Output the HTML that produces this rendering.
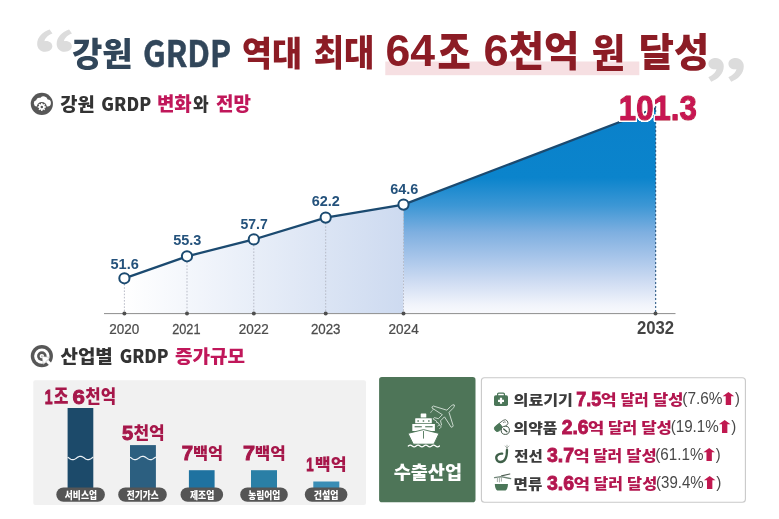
<!DOCTYPE html>
<html lang="ko">
<head>
<meta charset="utf-8">
<title>강원 GRDP</title>
<style>
html,body{margin:0;padding:0;background:#fff;}
body{width:779px;height:519px;overflow:hidden;}
svg{display:block;}
</style>
</head>
<body>
<svg width="779" height="519" viewBox="0 0 779 519">
<defs>
<linearGradient id="gl" x1="124" y1="0" x2="403.5" y2="0" gradientUnits="userSpaceOnUse">
<stop offset="0" stop-color="#ffffff"/>
<stop offset="1" stop-color="#cddaf0"/>
</linearGradient>
<linearGradient id="gr" x1="0" y1="111" x2="0" y2="313" gradientUnits="userSpaceOnUse">
<stop offset="0" stop-color="#0a81ca"/>
<stop offset="0.33" stop-color="#0b84cc"/>
<stop offset="0.47" stop-color="#3d97d5"/>
<stop offset="0.6" stop-color="#7eafe0"/>
<stop offset="0.73" stop-color="#a9c6ea"/>
<stop offset="0.856" stop-color="#d2def3"/>
<stop offset="0.96" stop-color="#f1f4fb"/>
<stop offset="1" stop-color="#f8f9fd"/>
</linearGradient>
<filter id="ol" x="-10%" y="-20%" width="120%" height="140%">
<feMorphology in="SourceAlpha" operator="dilate" radius="1.3" result="d"/>
<feGaussianBlur in="d" stdDeviation="0.35" result="b"/>
<feFlood flood-color="#fff" result="f"/>
<feComposite in="f" in2="b" operator="in" result="o"/>
<feComponentTransfer in="o" result="o2"><feFuncA type="linear" slope="3"/></feComponentTransfer>
<feMerge><feMergeNode in="o2"/><feMergeNode in="SourceGraphic"/></feMerge>
</filter>
</defs>
<rect width="779" height="519" fill="#fff"/>
<!-- title highlight -->
<rect x="385.3" y="61.5" width="254" height="13.7" fill="#f6dfe2"/>


<!-- section icon 1: cloud + gear -->
<circle cx="41.85" cy="103.8" r="11.1" fill="#575757"/>
<path d="M36.6 106.4 a3.1 3.1 0 0 1 -0.4 -6.1 a3.4 3.4 0 0 1 4.3 -2.5 a4.2 4.2 0 0 1 7.2 1.6 a3.4 3.4 0 0 1 -0.6 7 Z" fill="#fff"/>
<circle cx="41.8" cy="107" r="5" fill="#575757"/>
<path d="M45.84 106.30 L45.84 107.70 L44.72 107.70 L44.36 108.57 L45.15 109.36 L44.16 110.35 L43.37 109.56 L42.50 109.92 L42.50 111.04 L41.10 111.04 L41.10 109.92 L40.23 109.56 L39.44 110.35 L38.45 109.36 L39.24 108.57 L38.88 107.70 L37.76 107.70 L37.76 106.30 L38.88 106.30 L39.24 105.43 L38.45 104.64 L39.44 103.65 L40.23 104.44 L41.10 104.08 L41.10 102.96 L42.50 102.96 L42.50 104.08 L43.37 104.44 L44.16 103.65 L45.15 104.64 L44.36 105.43 L44.72 106.30Z" fill="#fff"/>
<circle cx="41.8" cy="107" r="1.25" fill="#575757"/>
<!-- section icon 2: target + cursor -->
<circle cx="41.85" cy="356.1" r="11.1" fill="#575757"/>
<circle cx="41.85" cy="356.1" r="7.7" fill="#fff"/>
<circle cx="41.85" cy="356.1" r="4.8" fill="#575757"/>
<circle cx="41.85" cy="356.1" r="2.2" fill="#fff"/>
<circle cx="41.85" cy="356.1" r="0.7" fill="#8a8a8a"/>
<path d="M47.9 359.5 L53.6 365.2 L51.4 367.4 L45.7 361.7 Z" fill="#fff"/>
<path d="M41.8 356.2 L50 357.5 L47.2 360.2 L46.2 361.4 L43.4 364.4 Z" fill="#fff" stroke="#9a9a9a" stroke-width="0.45" stroke-linejoin="round"/>

<!-- CHART -->
<polygon points="124.4,278.4 187,256.3 253.8,239.4 325.7,217.6 403.5,204.6 403.5,313.5 124.4,313.5" fill="url(#gl)"/>
<polygon points="403.5,204.6 655.7,108.2 655.7,313.5 403.5,313.5" fill="url(#gr)"/>
<line x1="104" y1="313.6" x2="675.5" y2="313.6" stroke="#8e8e8e" stroke-width="1"/>
<g stroke="#b2b6c2" stroke-width="0.9" stroke-dasharray="1.6 1.6">
<line x1="124.4" y1="284" x2="124.4" y2="313"/>
<line x1="187" y1="262" x2="187" y2="313"/>
<line x1="253.8" y1="245" x2="253.8" y2="313"/>
<line x1="325.7" y1="223" x2="325.7" y2="313"/>
<line x1="403.5" y1="210" x2="403.5" y2="313"/>
</g>
<line x1="655.7" y1="102" x2="655.7" y2="313" stroke="#1d4e7a" stroke-width="1" stroke-dasharray="2 2"/>
<polyline points="124.4,278.4 187,256.3 253.8,239.4 325.7,217.6 403.5,204.6 655.7,108.2" fill="none" stroke="#1b4a70" stroke-width="2.3"/>
<g fill="#fff" stroke="#1b4a70" stroke-width="2">
<circle cx="124.4" cy="278.3" r="5.1"/>
<circle cx="187" cy="256.3" r="5.1"/>
<circle cx="253.8" cy="239.4" r="5.1"/>
<circle cx="325.7" cy="217.6" r="5.1"/>
<circle cx="403.5" cy="204.6" r="5.1"/>
</g>
<g fill="#4e4e4e">
<circle cx="124.4" cy="313.6" r="2"/>
<circle cx="187" cy="313.6" r="2"/>
<circle cx="253.8" cy="313.6" r="2"/>
<circle cx="325.7" cy="313.6" r="2"/>
<circle cx="403.5" cy="313.6" r="2"/>
<circle cx="655.5" cy="313.6" r="2"/>
</g>

<!-- BAR PANEL -->
<rect x="33.3" y="380.3" width="332.7" height="124.7" rx="2" fill="#f1f1f1"/>
<rect x="67.6" y="408" width="25.7" height="85" fill="#1c4a6a"/>
<rect x="130" y="445.1" width="25.9" height="48" fill="#2c5f80"/>
<rect x="188.9" y="470.2" width="25.7" height="23" fill="#1f72a0"/>
<rect x="251" y="470.2" width="26" height="23" fill="#2a7fa6"/>
<rect x="313.3" y="481.5" width="26" height="12" fill="#3a8db5"/>
<path d="M67.60 457.17 L68.24 457.58 L68.88 458.02 L69.53 458.46 L70.17 458.87 L70.81 459.22 L71.45 459.49 L72.10 459.65 L72.74 459.70 L73.38 459.63 L74.02 459.46 L74.67 459.18 L75.31 458.82 L75.95 458.41 L76.59 457.97 L77.24 457.53 L77.88 457.12 L78.52 456.77 L79.16 456.51 L79.81 456.35 L80.45 456.30 L81.09 456.37 L81.73 456.55 L82.38 456.82 L83.02 457.18 L83.66 457.60 L84.30 458.04 L84.95 458.48 L85.59 458.88 L86.23 459.23 L86.88 459.49 L87.52 459.65 L88.16 459.70 L88.80 459.63 L89.44 459.45 L90.09 459.17 L90.73 458.81 L91.37 458.40 L92.02 457.95 L92.66 457.52 L93.30 457.11" fill="none" stroke="#eef3f7" stroke-width="1.2"/>
<path d="M130.00 457.17 L130.65 457.59 L131.29 458.03 L131.94 458.47 L132.59 458.88 L133.24 459.23 L133.88 459.50 L134.53 459.65 L135.18 459.70 L135.83 459.63 L136.47 459.44 L137.12 459.15 L137.77 458.79 L138.42 458.37 L139.06 457.92 L139.71 457.48 L140.36 457.08 L141.01 456.73 L141.66 456.48 L142.30 456.33 L142.95 456.30 L143.60 456.39 L144.25 456.59 L144.89 456.88 L145.54 457.26 L146.19 457.68 L146.84 458.13 L147.48 458.57 L148.13 458.97 L148.78 459.30 L149.43 459.54 L150.07 459.67 L150.72 459.69 L151.37 459.59 L152.02 459.39 L152.66 459.08 L153.31 458.70 L153.96 458.27 L154.61 457.82 L155.25 457.39 L155.90 457.00" fill="none" stroke="#eef3f7" stroke-width="1.2"/>
<g fill="#555">
<rect x="56.3" y="487.5" width="48.6" height="14.3" rx="7.15"/>
<rect x="118.2" y="487.5" width="48.6" height="14.3" rx="7.15"/>
<rect x="180.5" y="487.5" width="42.6" height="14.3" rx="7.15"/>
<rect x="240.2" y="487.5" width="47.6" height="14.3" rx="7.15"/>
<rect x="304.8" y="487.5" width="42.6" height="14.3" rx="7.15"/>
</g>

<!-- GREEN BOX -->
<rect x="379.1" y="377" width="96.4" height="125.2" rx="2.8" fill="#4e7558"/>


<!-- ship -->
<g fill="#fff">
<rect x="420.7" y="413.5" width="5.6" height="4.1" rx="0.4"/>
<rect x="415.2" y="418.3" width="16.6" height="5" rx="0.4"/>
<rect x="412.3" y="424" width="22.6" height="7"/>
<path d="M408 433.4 L423.5 429.6 L439 433.4 L433.9 444.2 L413.3 444.2 Z" stroke="#4d7558" stroke-width="0.9"/>
</g>
<g fill="#4d7558">
<rect x="417.4" y="420.3" width="1.5" height="1.4"/>
<rect x="422.7" y="420.3" width="1.5" height="1.4"/>
<rect x="428.1" y="420.3" width="1.5" height="1.4"/>
<rect x="414.6" y="426.2" width="7.2" height="1.1"/>
<rect x="425.2" y="426.2" width="7.4" height="1.1"/>
<rect x="423.1" y="431" width="0.9" height="7.6"/>
</g>
<path d="M408.3 446 q1.95 -1.9 3.9 0 t3.9 0 t3.9 0 t3.9 0 t3.9 0 t3.9 0 t3.9 0 t3.9 0" fill="none" stroke="#fff" stroke-width="1.2" stroke-linecap="round"/>
<!-- plane -->
<g transform="translate(445.4,413.8) rotate(-45)" fill="none" stroke="#dfe9e2" stroke-width="0.8" stroke-linejoin="round" stroke-linecap="round">
<path d="M12.4 0 C12.4 -0.9 11 -1.5 9 -1.5 L3.6 -1.5 L-3 -14 Q-4.4 -14.8 -5.4 -13.6 L-2.8 -1.5 L-8.4 -1.5 L-10.6 -5.2 L-12.4 -5.2 L-11.4 -1.1 L-12.4 0 L-11.4 1.1 L-12.4 5.2 L-10.6 5.2 L-8.4 1.5 L-2.8 1.5 L-5.4 13.6 Q-4.4 14.8 -3 14 L3.6 1.5 L9 1.5 C11 1.5 12.4 0.9 12.4 0 Z"/>
</g>
<path d="M430.6 412.6 Q431.6 410.4 433.4 409.4 M437.6 426.2 L439 425 M439.4 428.6 L441.6 426.8" fill="none" stroke="#cfdcd3" stroke-width="0.7" stroke-linecap="round"/>

<!-- WHITE PANEL -->
<rect x="481.4" y="377.7" width="264" height="124.5" rx="3" fill="#fff" stroke="#c9c9c9" stroke-width="1.1"/>


<!-- row icons -->
<g>
<!-- medical kit -->
<path d="M497.6 396 V394.2 a1.1 1.1 0 0 1 1.1 -1.1 h4.6 a1.1 1.1 0 0 1 1.1 1.1 V396" fill="none" stroke="#4b7658" stroke-width="1.2"/>
<rect x="494" y="395.3" width="14" height="10.8" rx="1.8" fill="#4b7658"/>
<path d="M499.9 397.8 h2.2 v1.9 h1.9 v2.2 h-1.9 v1.9 h-2.2 v-1.9 h-1.9 v-2.2 h1.9 Z" fill="#fff"/>
<!-- pills -->
<g transform="translate(501.1,425.7) rotate(-37)">
<path d="M0 -3 H4.8 a3 3 0 0 1 0 6 H0 Z" fill="#fff" stroke="#4a5a4f" stroke-width="0.8"/>
<path d="M0 -3 H-4.6 a3 3 0 0 0 0 6 H0 Z" fill="#4b7658" stroke="#4b7658" stroke-width="0.8"/>
<path d="M3.4 -1.3 q1.8 -0.1 2.4 1.3" fill="none" stroke="#4a5a4f" stroke-width="0.7"/>
</g>
<circle cx="505.3" cy="430.3" r="4.1" fill="#fff" stroke="#3f5446" stroke-width="1"/>
<path d="M503.7 428.9 L506.9 431.8" stroke="#3f5446" stroke-width="1.3" stroke-linecap="round"/>
<!-- wire -->
<path d="M507 449.8 C507 456.5 505 462 500.6 462 C496.4 462 495 457.2 497.6 455 C499 453.8 500.8 453.4 502.2 453.6" fill="none" stroke="#3f6049" stroke-width="2.3" stroke-linecap="round"/>
<path d="M507 449 V445.2 M507 448 L505.2 446 M507 448 L509 446" fill="none" stroke="#8b968e" stroke-width="0.7" stroke-linecap="round"/>
<!-- noodles -->
<path d="M494.8 484 H508 C508 487.5 506.8 489.6 505.6 490.6 H497.2 C496 489.6 494.8 487.5 494.8 484 Z" fill="#4b7658"/>
<path d="M501.6 475.8 L509.8 474" stroke="#4f5f54" stroke-width="1.2" stroke-linecap="round"/>
<path d="M494.6 477.6 L501 476.6 L510.6 478.6" fill="none" stroke="#6f8577" stroke-width="1.4" stroke-linecap="round" stroke-linejoin="round"/>
<path d="M497.4 477 V482 M499.4 476.6 V482.4 M501.4 476.4 V481.6" stroke="#9aa59d" stroke-width="0.9"/>
</g>

<text transform="translate(-30.79,88.98) scale(1.2493,1)" font-size="68.48" font-weight="900" fill="#dcdcdc" style='font-family:"Noto Sans CJK SC",sans-serif' >‘</text>
<text transform="translate(-11.29,88.98) scale(1.2493,1)" font-size="68.48" font-weight="900" fill="#dcdcdc" style='font-family:"Noto Sans CJK SC",sans-serif' >‘</text>
<text transform="translate(72.01,65.96) scale(0.9881,1)" font-size="33.37" font-weight="900" fill="#31465a" style='font-family:"Noto Sans CJK KR","Liberation Sans",sans-serif' >강원</text>
<text transform="translate(142.91,66.73) scale(0.8556,1)" font-size="37.11" font-weight="700" fill="#31465a" style='font-family:"Noto Sans CJK KR","Liberation Sans",sans-serif' stroke="#31465a" stroke-width="0.5">GRDP</text>
<text transform="translate(241.97,65.94) scale(0.9418,1)" font-size="34.63" font-weight="900" fill="#8c1c25" style='font-family:"Noto Sans CJK KR","Liberation Sans",sans-serif' >역대</text>
<text transform="translate(313.68,65.81) scale(0.9179,1)" font-size="35.89" font-weight="900" fill="#8c1c25" style='font-family:"Noto Sans CJK KR","Liberation Sans",sans-serif' >최대</text>
<text transform="translate(385.42,66.06) scale(1.0243,1)" font-size="43.52" font-weight="700" fill="#8c1c25" style='font-family:"Liberation Sans","Noto Sans CJK KR",sans-serif' >64</text>
<text transform="translate(437.55,69.40) scale(0.8065,1)" font-size="44.87" font-weight="900" fill="#8c1c25" style='font-family:"Noto Sans CJK KR","Liberation Sans",sans-serif' >조</text>
<text transform="translate(483.49,66.06) scale(1.0388,1)" font-size="43.52" font-weight="700" fill="#8c1c25" style='font-family:"Liberation Sans","Noto Sans CJK KR",sans-serif' >6</text>
<text transform="translate(508.75,66.24) scale(0.9458,1)" font-size="40.63" font-weight="900" fill="#8c1c25" style='font-family:"Noto Sans CJK KR","Liberation Sans",sans-serif' >천억</text>
<text transform="translate(591.81,66.69) scale(0.9319,1)" font-size="39.04" font-weight="900" fill="#8c1c25" style='font-family:"Noto Sans CJK KR","Liberation Sans",sans-serif' >원</text>
<text transform="translate(638.80,66.09) scale(0.9803,1)" font-size="39.05" font-weight="900" fill="#8c1c25" style='font-family:"Noto Sans CJK KR","Liberation Sans",sans-serif' >달성</text>
<text transform="translate(705.92,119.56) scale(1.1990,1)" font-size="71.82" font-weight="900" fill="#dcdcdc" style='font-family:"Noto Sans CJK SC",sans-serif' >’</text>
<text transform="translate(725.92,119.56) scale(1.1990,1)" font-size="71.82" font-weight="900" fill="#dcdcdc" style='font-family:"Noto Sans CJK SC",sans-serif' >’</text>
<text transform="translate(60.24,110.78) scale(1.0261,1)" font-size="18.21" font-weight="900" fill="#333333" style='font-family:"Noto Sans CJK KR","Liberation Sans",sans-serif' >강원</text>
<text transform="translate(101.33,111.12) scale(0.9542,1)" font-size="18.31" font-weight="900" fill="#333333" style='font-family:"Noto Sans CJK KR","Liberation Sans",sans-serif' >GRDP</text>
<text transform="translate(156.88,110.71) scale(0.9983,1)" font-size="18.95" font-weight="900" fill="#c0175a" style='font-family:"Noto Sans CJK KR","Liberation Sans",sans-serif' >변화</text>
<text transform="translate(192.99,110.78) scale(0.9342,1)" font-size="18.21" font-weight="900" fill="#333333" style='font-family:"Noto Sans CJK KR","Liberation Sans",sans-serif' >와</text>
<text transform="translate(216.03,110.71) scale(1.0025,1)" font-size="18.95" font-weight="900" fill="#c0175a" style='font-family:"Noto Sans CJK KR","Liberation Sans",sans-serif' >전망</text>
<text transform="translate(60.42,362.94) scale(1.0318,1)" font-size="18.40" font-weight="900" fill="#333333" style='font-family:"Noto Sans CJK KR","Liberation Sans",sans-serif' >산업별</text>
<text transform="translate(119.64,362.72) scale(0.9638,1)" font-size="17.79" font-weight="900" fill="#333333" style='font-family:"Noto Sans CJK KR","Liberation Sans",sans-serif' >GRDP</text>
<text transform="translate(174.94,362.78) scale(1.0479,1)" font-size="18.21" font-weight="900" fill="#c0175a" style='font-family:"Noto Sans CJK KR","Liberation Sans",sans-serif' >증가규모</text>
<text transform="translate(110.46,269.16) scale(1.0245,1)" font-size="14.23" font-weight="700" fill="#24527c" style='font-family:"Liberation Sans","Noto Sans CJK KR",sans-serif' >51.6</text>
<text transform="translate(173.17,244.85) scale(0.9973,1)" font-size="14.51" font-weight="700" fill="#24527c" style='font-family:"Liberation Sans","Noto Sans CJK KR",sans-serif' >55.3</text>
<text transform="translate(240.48,228.75) scale(0.9430,1)" font-size="14.86" font-weight="700" fill="#24527c" style='font-family:"Liberation Sans","Noto Sans CJK KR",sans-serif' >57.7</text>
<text transform="translate(311.72,206.15) scale(0.9857,1)" font-size="14.65" font-weight="700" fill="#24527c" style='font-family:"Liberation Sans","Noto Sans CJK KR",sans-serif' >62.2</text>
<text transform="translate(390.32,194.15) scale(0.9671,1)" font-size="14.93" font-weight="700" fill="#24527c" style='font-family:"Liberation Sans","Noto Sans CJK KR",sans-serif' >64.6</text>
<text transform="translate(109.32,333.55) scale(0.9231,1)" font-size="14.65" font-weight="400" fill="#4c4c4c" style='font-family:"Liberation Sans","Noto Sans CJK KR",sans-serif' stroke="#4c4c4c" stroke-width="0.25">2020</text>
<text transform="translate(172.16,333.55) scale(0.8695,1)" font-size="14.65" font-weight="400" fill="#4c4c4c" style='font-family:"Liberation Sans","Noto Sans CJK KR",sans-serif' stroke="#4c4c4c" stroke-width="0.25">2021</text>
<text transform="translate(238.83,333.55) scale(0.9210,1)" font-size="14.65" font-weight="400" fill="#4c4c4c" style='font-family:"Liberation Sans","Noto Sans CJK KR",sans-serif' stroke="#4c4c4c" stroke-width="0.25">2022</text>
<text transform="translate(310.88,333.55) scale(0.9103,1)" font-size="14.65" font-weight="400" fill="#4c4c4c" style='font-family:"Liberation Sans","Noto Sans CJK KR",sans-serif' stroke="#4c4c4c" stroke-width="0.25">2023</text>
<text transform="translate(388.52,333.55) scale(0.9251,1)" font-size="14.65" font-weight="400" fill="#4c4c4c" style='font-family:"Liberation Sans","Noto Sans CJK KR",sans-serif' stroke="#4c4c4c" stroke-width="0.25">2024</text>
<text transform="translate(636.90,334.12) scale(0.9484,1)" font-size="17.61" font-weight="700" fill="#444" style='font-family:"Liberation Sans","Noto Sans CJK KR",sans-serif' >2032</text>
<text transform="translate(618.83,120.35) scale(0.8850,1)" font-size="35.21" font-weight="700" fill="#c71552" style='font-family:"Liberation Sans","Noto Sans CJK KR",sans-serif' stroke="#c71552" stroke-width="1.4" stroke-linejoin="round" filter="url(#ol)">101.3</text>
<text transform="translate(44.66,403.50) scale(0.6872,1)" font-size="20.43" font-weight="700" fill="#a6174a" style='font-family:"Liberation Sans","Noto Sans CJK KR",sans-serif' stroke="#a6174a" stroke-width="0.9">1</text>
<text transform="translate(53.66,404.40) scale(0.7826,1)" font-size="20.38" font-weight="900" fill="#a6174a" style='font-family:"Noto Sans CJK KR","Liberation Sans",sans-serif' >조</text>
<text transform="translate(72.61,403.50) scale(1.0915,1)" font-size="20.42" font-weight="700" fill="#a6174a" style='font-family:"Liberation Sans","Noto Sans CJK KR",sans-serif' stroke="#a6174a" stroke-width="0.9">6</text>
<text transform="translate(85.20,402.81) scale(0.9390,1)" font-size="17.89" font-weight="900" fill="#a6174a" style='font-family:"Noto Sans CJK KR","Liberation Sans",sans-serif' >천억</text>
<text transform="translate(121.89,439.50) scale(1.0100,1)" font-size="20.00" font-weight="700" fill="#a6174a" style='font-family:"Liberation Sans","Noto Sans CJK KR",sans-serif' stroke="#a6174a" stroke-width="0.9">5</text>
<text transform="translate(133.39,438.87) scale(0.9868,1)" font-size="17.26" font-weight="900" fill="#a6174a" style='font-family:"Noto Sans CJK KR","Liberation Sans",sans-serif' >천억</text>
<text transform="translate(181.78,459.70) scale(1.0288,1)" font-size="19.85" font-weight="700" fill="#a6174a" style='font-family:"Liberation Sans","Noto Sans CJK KR",sans-serif' stroke="#a6174a" stroke-width="0.9">7</text>
<text transform="translate(193.02,458.60) scale(1.0244,1)" font-size="16.00" font-weight="900" fill="#a6174a" style='font-family:"Noto Sans CJK KR","Liberation Sans",sans-serif' >백억</text>
<text transform="translate(242.93,459.70) scale(1.0931,1)" font-size="19.85" font-weight="700" fill="#a6174a" style='font-family:"Liberation Sans","Noto Sans CJK KR",sans-serif' stroke="#a6174a" stroke-width="0.9">7</text>
<text transform="translate(254.79,458.78) scale(1.0403,1)" font-size="16.21" font-weight="900" fill="#a6174a" style='font-family:"Noto Sans CJK KR","Liberation Sans",sans-serif' >백억</text>
<text transform="translate(306.21,470.70) scale(0.7340,1)" font-size="17.97" font-weight="700" fill="#a6174a" style='font-family:"Liberation Sans","Noto Sans CJK KR",sans-serif' stroke="#a6174a" stroke-width="0.9">1</text>
<text transform="translate(314.86,470.11) scale(1.0908,1)" font-size="15.89" font-weight="900" fill="#a6174a" style='font-family:"Noto Sans CJK KR","Liberation Sans",sans-serif' >백억</text>
<text transform="translate(64.82,498.50) scale(0.8768,1)" font-size="10.00" font-weight="900" fill="#fff" style='font-family:"Noto Sans CJK KR","Liberation Sans",sans-serif' >서비스업</text>
<text transform="translate(126.74,498.50) scale(0.8670,1)" font-size="10.00" font-weight="900" fill="#fff" style='font-family:"Noto Sans CJK KR","Liberation Sans",sans-serif' >전기가스</text>
<text transform="translate(189.91,498.50) scale(0.8835,1)" font-size="10.00" font-weight="900" fill="#fff" style='font-family:"Noto Sans CJK KR","Liberation Sans",sans-serif' >제조업</text>
<text transform="translate(248.15,498.50) scale(0.8732,1)" font-size="10.00" font-weight="900" fill="#fff" style='font-family:"Noto Sans CJK KR","Liberation Sans",sans-serif' >농림어업</text>
<text transform="translate(313.85,498.59) scale(0.8875,1)" font-size="10.11" font-weight="900" fill="#fff" style='font-family:"Noto Sans CJK KR","Liberation Sans",sans-serif' >건설업</text>
<text transform="translate(393.66,478.69) scale(1.0269,1)" font-size="18.11" font-weight="900" fill="#fff" style='font-family:"Noto Sans CJK KR","Liberation Sans",sans-serif' >수출산업</text>
<text transform="translate(513.55,404.61) scale(1.1629,1)" font-size="13.89" font-weight="900" fill="#3c3c3c" style='font-family:"Noto Sans CJK KR","Liberation Sans",sans-serif' >의료기기</text>
<text transform="translate(576.33,405.60) scale(0.8789,1)" font-size="20.43" font-weight="700" fill="#b3164f" style='font-family:"Liberation Sans","Noto Sans CJK KR",sans-serif' stroke="#b3164f" stroke-width="0.9">7.5</text>
<text transform="translate(600.83,404.58) scale(1.2179,1)" font-size="14.21" font-weight="900" fill="#b3164f" style='font-family:"Noto Sans CJK KR","Liberation Sans",sans-serif' >억</text>
<text transform="translate(620.48,404.53) scale(1.0440,1)" font-size="14.74" font-weight="900" fill="#b3164f" style='font-family:"Noto Sans CJK KR","Liberation Sans",sans-serif' >달러</text>
<text transform="translate(652.70,404.53) scale(1.1363,1)" font-size="14.74" font-weight="900" fill="#b3164f" style='font-family:"Noto Sans CJK KR","Liberation Sans",sans-serif' >달성</text>
<text transform="translate(682.27,404.43) scale(0.9069,1)" font-size="17.02" font-weight="400" fill="#484848" style='font-family:"Liberation Sans","Noto Sans CJK KR",sans-serif' >(7.6%</text>
<text transform="translate(735.05,404.43) scale(0.8587,1)" font-size="17.02" font-weight="400" fill="#484848" style='font-family:"Liberation Sans","Noto Sans CJK KR",sans-serif' >)</text>
<text transform="translate(718.79,404.60) scale(1.3607,1)" font-size="17.20" font-weight="400" fill="#c0184f" style='font-family:"DejaVu Sans",sans-serif' >⬆</text>
<text transform="translate(513.56,432.61) scale(1.1440,1)" font-size="13.89" font-weight="900" fill="#3c3c3c" style='font-family:"Noto Sans CJK KR","Liberation Sans",sans-serif' >의약품</text>
<text transform="translate(561.77,433.60) scale(0.9592,1)" font-size="20.14" font-weight="700" fill="#b3164f" style='font-family:"Liberation Sans","Noto Sans CJK KR",sans-serif' stroke="#b3164f" stroke-width="0.9">2.6</text>
<text transform="translate(587.70,432.58) scale(1.2721,1)" font-size="14.21" font-weight="900" fill="#b3164f" style='font-family:"Noto Sans CJK KR","Liberation Sans",sans-serif' >억</text>
<text transform="translate(607.94,432.53) scale(1.0801,1)" font-size="14.74" font-weight="900" fill="#b3164f" style='font-family:"Noto Sans CJK KR","Liberation Sans",sans-serif' >달러</text>
<text transform="translate(641.20,432.53) scale(1.1363,1)" font-size="14.74" font-weight="900" fill="#b3164f" style='font-family:"Noto Sans CJK KR","Liberation Sans",sans-serif' >달성</text>
<text transform="translate(670.69,432.43) scale(0.8918,1)" font-size="17.02" font-weight="400" fill="#484848" style='font-family:"Liberation Sans","Noto Sans CJK KR",sans-serif' >(19.1%</text>
<text transform="translate(731.15,432.43) scale(0.8813,1)" font-size="17.02" font-weight="400" fill="#484848" style='font-family:"Liberation Sans","Noto Sans CJK KR",sans-serif' >)</text>
<text transform="translate(714.99,432.60) scale(1.3607,1)" font-size="17.20" font-weight="400" fill="#c0184f" style='font-family:"DejaVu Sans",sans-serif' >⬆</text>
<text transform="translate(514.23,460.74) scale(1.1050,1)" font-size="14.04" font-weight="900" fill="#3c3c3c" style='font-family:"Noto Sans CJK KR","Liberation Sans",sans-serif' >전선</text>
<text transform="translate(546.96,461.60) scale(0.9669,1)" font-size="20.14" font-weight="700" fill="#b3164f" style='font-family:"Liberation Sans","Noto Sans CJK KR",sans-serif' stroke="#b3164f" stroke-width="0.9">3.7</text>
<text transform="translate(573.42,460.58) scale(1.2450,1)" font-size="14.21" font-weight="900" fill="#b3164f" style='font-family:"Noto Sans CJK KR","Liberation Sans",sans-serif' >억</text>
<text transform="translate(592.94,460.53) scale(1.0801,1)" font-size="14.74" font-weight="900" fill="#b3164f" style='font-family:"Noto Sans CJK KR","Liberation Sans",sans-serif' >달러</text>
<text transform="translate(626.21,460.53) scale(1.1202,1)" font-size="14.74" font-weight="900" fill="#b3164f" style='font-family:"Noto Sans CJK KR","Liberation Sans",sans-serif' >달성</text>
<text transform="translate(655.19,460.43) scale(0.8956,1)" font-size="17.02" font-weight="400" fill="#484848" style='font-family:"Liberation Sans","Noto Sans CJK KR",sans-serif' >(61.1%</text>
<text transform="translate(715.85,460.43) scale(0.8587,1)" font-size="17.02" font-weight="400" fill="#484848" style='font-family:"Liberation Sans","Noto Sans CJK KR",sans-serif' >)</text>
<text transform="translate(699.59,460.60) scale(1.3607,1)" font-size="17.20" font-weight="400" fill="#c0184f" style='font-family:"DejaVu Sans",sans-serif' >⬆</text>
<text transform="translate(513.61,488.61) scale(1.1232,1)" font-size="13.89" font-weight="900" fill="#3c3c3c" style='font-family:"Noto Sans CJK KR","Liberation Sans",sans-serif' >면류</text>
<text transform="translate(546.96,489.60) scale(0.9669,1)" font-size="20.14" font-weight="700" fill="#b3164f" style='font-family:"Liberation Sans","Noto Sans CJK KR",sans-serif' stroke="#b3164f" stroke-width="0.9">3.6</text>
<text transform="translate(573.60,488.58) scale(1.2721,1)" font-size="14.21" font-weight="900" fill="#b3164f" style='font-family:"Noto Sans CJK KR","Liberation Sans",sans-serif' >억</text>
<text transform="translate(593.44,488.53) scale(1.0841,1)" font-size="14.74" font-weight="900" fill="#b3164f" style='font-family:"Noto Sans CJK KR","Liberation Sans",sans-serif' >달러</text>
<text transform="translate(627.12,488.53) scale(1.1082,1)" font-size="14.74" font-weight="900" fill="#b3164f" style='font-family:"Noto Sans CJK KR","Liberation Sans",sans-serif' >달성</text>
<text transform="translate(656.10,488.43) scale(0.8841,1)" font-size="17.02" font-weight="400" fill="#484848" style='font-family:"Liberation Sans","Noto Sans CJK KR",sans-serif' >(39.4%</text>
<text transform="translate(716.15,488.43) scale(0.9038,1)" font-size="17.02" font-weight="400" fill="#484848" style='font-family:"Liberation Sans","Noto Sans CJK KR",sans-serif' >)</text>
<text transform="translate(699.99,488.60) scale(1.3607,1)" font-size="17.20" font-weight="400" fill="#c0184f" style='font-family:"DejaVu Sans",sans-serif' >⬆</text>
</svg>
</body>
</html>
